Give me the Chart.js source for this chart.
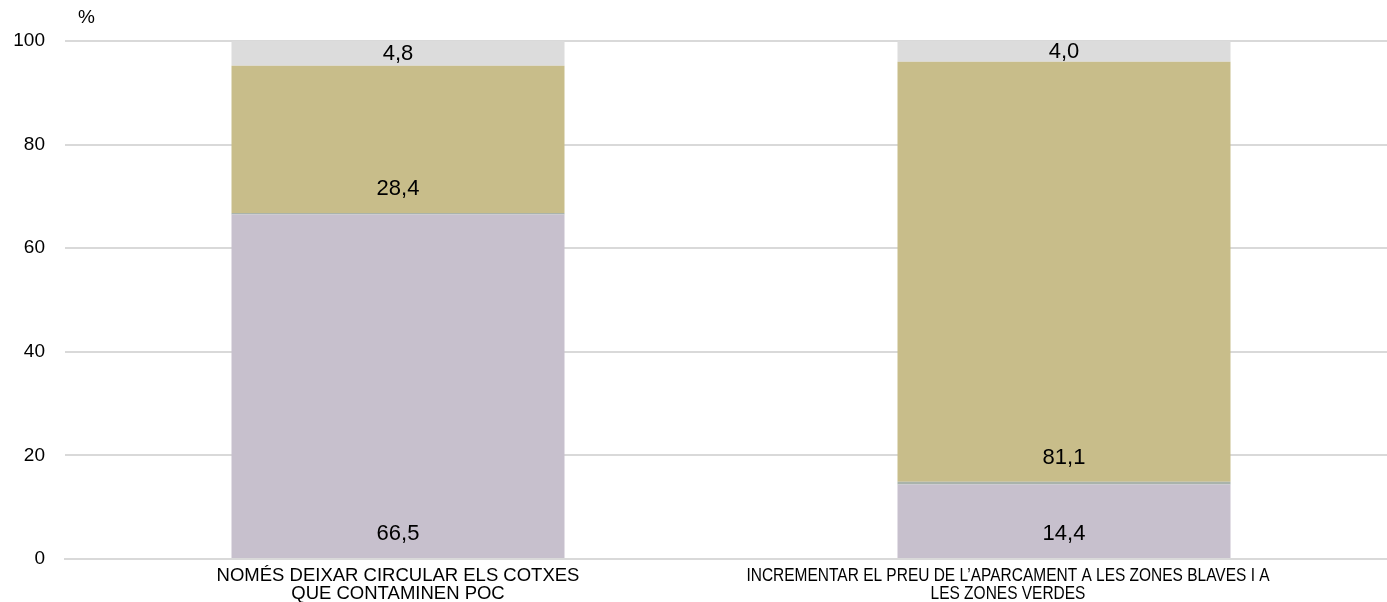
<!DOCTYPE html>
<html>
<head>
<meta charset="utf-8">
<script src="https://cdn.jsdelivr.net/npm/chart.js@4"></script>
<style>
  html, body { margin: 0; padding: 0; background: #fff; overflow: hidden; }
  #wrap { width: 1397px; height: 602px; }
</style>
</head>
<body>
<div id="wrap"><canvas id="chart"></canvas></div>
<script>
const categories = [
  ["NOMÉS DEIXAR CIRCULAR ELS COTXES", "QUE CONTAMINEN POC"],
  ["INCREMENTAR EL PREU DE L’APARCAMENT A LES ZONES BLAVES I A", "LES ZONES VERDES"]
];
const serieA = [66.5, 14.4];
const serieLine = [0.3, 0.5];
const serieB = [28.4, 81.1];
const serieC = [4.8, 4.0];
const yTicks = [0, 20, 40, 60, 80, 100];

const FONT = "'Liberation Sans', Arial, sans-serif";
const fmt = v => v.toFixed(1).replace(".", ",");

// category label layout: horizontal squeeze and shift per category
const catSqueeze = [1, 0.837];
const catShift = [0, -56];

const drawLabels = {
  id: "drawLabels",
  afterDatasetsDraw(chart) {
    const ctx = chart.ctx;
    const area = chart.chartArea;
    ctx.save();
    ctx.font = "22px " + FONT;
    ctx.fillStyle = "#000";
    ctx.textAlign = "center";
    ctx.textBaseline = "middle";
    chart.data.datasets.forEach((ds, i) => {
      if (!ds.showLabel) return;
      chart.getDatasetMeta(i).data.forEach((bar, j) => {
        const h = bar.base - bar.y;
        const y = h < 48 ? (bar.base + bar.y) / 2 + 1 : bar.base - 24;
        ctx.fillText(fmt(ds.data[j]), bar.x, y);
      });
    });

    // category labels
    const xs = chart.scales.x;
    ctx.font = "18.5px " + FONT;
    chart.data.labels.forEach((lines, j) => {
      const cx = xs.getPixelForValue(j) + catShift[j];
      lines.forEach((line, k) => {
        ctx.save();
        ctx.translate(cx, area.bottom + 17 + k * 18);
        ctx.scale(catSqueeze[j], 1);
        ctx.fillText(line, 0, 0);
        ctx.restore();
      });
    });

    // unit label
    ctx.font = "19px " + FONT;
    ctx.textAlign = "left";
    ctx.fillText("%", area.left + 13, area.top - 23);
    ctx.restore();
  }
};

new Chart(document.getElementById("chart"), {
  type: "bar",
  data: {
    labels: categories,
    datasets: [
      { data: serieA, backgroundColor: "#c7c0cd", showLabel: true },
      { data: serieLine, backgroundColor: "#a9b3ab" },
      { data: serieB, backgroundColor: "#c8bd8a", showLabel: true },
      { data: serieC, backgroundColor: "#dcdcdc", showLabel: true }
    ]
  },
  options: {
    responsive: true,
    maintainAspectRatio: false,
    animation: false,
    layout: { padding: { top: 41, left: 0, right: 0, bottom: 0 } },
    datasets: { bar: { barPercentage: 0.5, categoryPercentage: 1, borderWidth: 0 } },
    plugins: { legend: { display: false }, tooltip: { enabled: false } },
    scales: {
      x: {
        stacked: true,
        grid: { display: false },
        border: { color: "#d9d9d9", width: 2 },
        ticks: { display: false },
        afterFit: (s) => { s.height = 43; }
      },
      y: {
        stacked: true,
        min: 0,
        max: 100,
        afterBuildTicks: (s) => { s.ticks = yTicks.map(v => ({ value: v })); },
        afterFit: (s) => { s.width = 65; },
        grid: { color: "#d9d9d9", lineWidth: 2, drawTicks: false },
        border: { display: false },
        ticks: {
          color: "#000",
          padding: 20,
          font: { family: FONT, size: 19 }
        }
      }
    }
  },
  plugins: [drawLabels]
});
</script>
</body>
</html>
